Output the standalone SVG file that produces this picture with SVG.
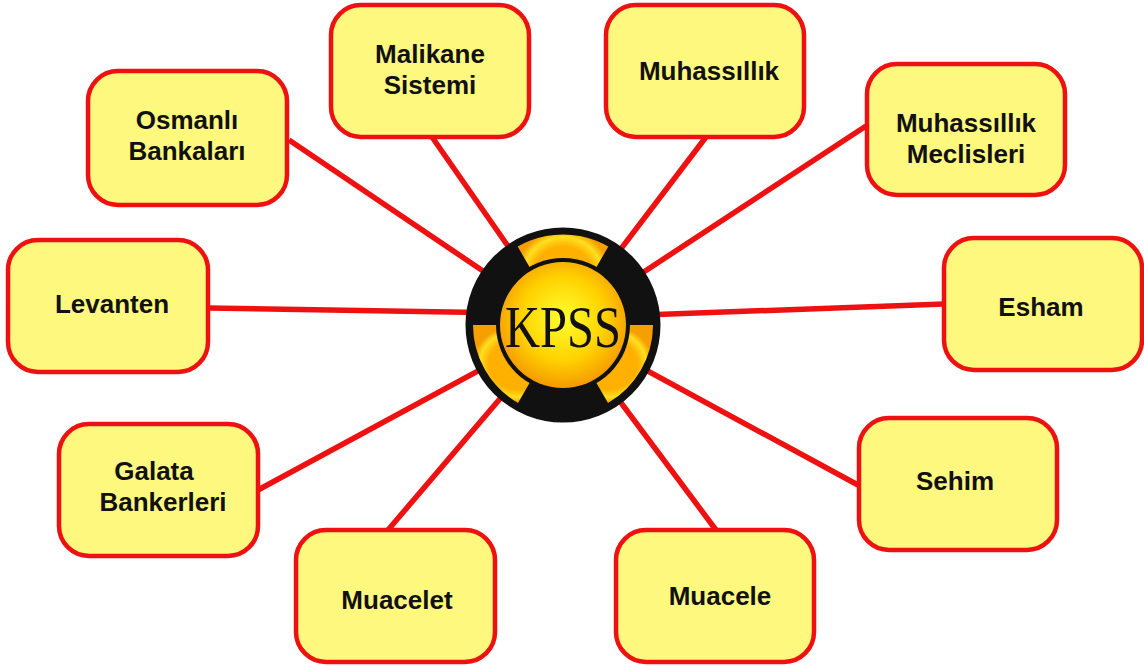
<svg xmlns="http://www.w3.org/2000/svg" width="1144" height="666" viewBox="0 0 1144 666">
<style>
.box{fill:#fff87f;stroke:#ee1111;stroke-width:4.5}
.lbl{font-family:"Liberation Sans",Arial,sans-serif;font-weight:bold;font-size:26px;fill:#111;text-anchor:middle}
.con{stroke:#ee1111;stroke-width:5.5;fill:none;stroke-linecap:butt}
</style>
<defs>
<radialGradient id="gy" cx="0.5" cy="0.45" r="0.55">
<stop offset="0" stop-color="#ffff30"/>
<stop offset="0.6" stop-color="#ffd200"/>
<stop offset="1" stop-color="#f59a00"/>
</radialGradient>
<radialGradient id="gr" cx="0.5" cy="0.5" r="0.5">
<stop offset="0.65" stop-color="#ffb000"/>
<stop offset="0.85" stop-color="#ffdf20"/>
<stop offset="1" stop-color="#f5a000"/>
</radialGradient>
</defs>
<rect width="1144" height="666" fill="#ffffff"/>
<g id="connectors">
<line class="con" x1="289" y1="140" x2="563" y2="325"/>
<line class="con" x1="432" y1="137" x2="563" y2="325"/>
<line class="con" x1="706" y1="137" x2="563" y2="325"/>
<line class="con" x1="866" y1="126" x2="563" y2="325"/>
<line class="con" x1="208" y1="308" x2="563" y2="314"/>
<line class="con" x1="944" y1="304" x2="563" y2="318"/>
<line class="con" x1="258" y1="490" x2="563" y2="325"/>
<line class="con" x1="858" y1="485" x2="563" y2="325"/>
<line class="con" x1="388" y1="530" x2="563" y2="325"/>
<line class="con" x1="716" y1="530" x2="563" y2="325"/>
</g>
<g id="center">
<circle cx="563" cy="325" r="94" fill="#111"/>
<path d="M563,325 L515.5,242.7 A95,95 0 0 1 610.5,242.7 Z" fill="url(#gr)"/>
<path d="M563,325 L653,325 A90,90 0 0 1 608,403 Z" fill="url(#gr)"/>
<path d="M563,325 L518,403 A90,90 0 0 1 473,325 Z" fill="url(#gr)"/>
<circle cx="563" cy="325" r="94" fill="none" stroke="#111" stroke-width="7"/>
<circle cx="563" cy="325" r="67" fill="#111"/>
<circle cx="563" cy="325" r="63" fill="url(#gy)"/>
<text x="563" y="347" font-family="Liberation Serif,serif" font-size="60" text-anchor="middle" fill="#111" textLength="116" lengthAdjust="spacingAndGlyphs">KPSS</text>
</g>
<g id="osmanli"><rect class="box" x="88" y="71" width="199" height="134" rx="30"/><text class="lbl" x="187" y="129">Osmanlı</text><text class="lbl" x="187" y="160">Bankaları</text></g>
<g id="malikane"><rect class="box" x="331" y="5" width="198" height="132" rx="30"/><text class="lbl" x="430" y="63">Malikane</text><text class="lbl" x="430" y="94">Sistemi</text></g>
<g id="muhassillik"><rect class="box" x="606" y="5" width="198" height="132" rx="30"/><text class="lbl" x="709" y="80">Muhassıllık</text></g>
<g id="meclisleri"><rect class="box" x="867" y="64" width="198" height="131" rx="30"/><text class="lbl" x="966" y="132">Muhassıllık</text><text class="lbl" x="966" y="163">Meclisleri</text></g>
<g id="levanten"><rect class="box" x="8" y="240" width="200" height="132" rx="30"/><text class="lbl" x="112" y="313">Levanten</text></g>
<g id="esham"><rect class="box" x="944" y="238" width="198" height="132" rx="30"/><text class="lbl" x="1041" y="316">Esham</text></g>
<g id="galata"><rect class="box" x="59" y="424" width="199" height="132" rx="30"/><text class="lbl" x="154" y="480">Galata</text><text class="lbl" x="163" y="511">Bankerleri</text></g>
<g id="sehim"><rect class="box" x="859" y="418" width="198" height="132" rx="30"/><text class="lbl" x="955" y="490">Sehim</text></g>
<g id="muacelet"><rect class="box" x="296" y="530" width="199" height="132" rx="30"/><text class="lbl" x="397" y="609">Muacelet</text></g>
<g id="muacele"><rect class="box" x="616" y="530" width="198" height="132" rx="30"/><text class="lbl" x="720" y="605">Muacele</text></g>
</svg>
